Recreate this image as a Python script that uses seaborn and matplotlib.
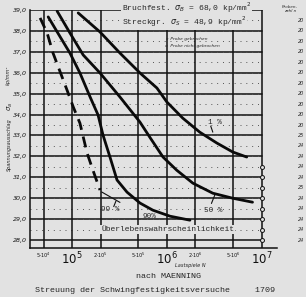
import matplotlib
matplotlib.use("Agg")
import numpy as np
import pandas as pd
import seaborn as sns
import matplotlib.pyplot as plt
from matplotlib.ticker import FixedLocator, NullLocator

# ---- data ----
n_99 = [4.6e4, 5.46e4, 6.3e4, 7.5e4, 8.85e4, 1.03e5, 1.21e5, 1.44e5, 1.66e5, 1.97e5]
s_99 = [38.62, 37.90, 36.94, 36.03, 35.17, 34.36, 33.59, 32.16, 31.34, 30.39]

n_90 = [5.6e4, 7.5e4, 9.5e4, 1.21e5, 1.55e5, 1.88e5, 2.12e5, 2.51e5, 2.98e5, 3.8e5, 5.2e5, 7.1e5, 1.08e6, 1.75e6]
s_90 = [38.67, 37.71, 36.94, 35.99, 34.84, 33.98, 33.02, 31.97, 30.87, 30.29, 29.77, 29.43, 29.14, 28.95]

n_50 = [6.95e4, 9.5e4, 1.31e5, 1.97e5, 3.2e5, 5.2e5, 6.6e5, 9.1e5, 1.27e6, 1.88e6, 3.05e6, 4.95e6, 8.0e6]
s_50 = [38.95, 37.90, 36.85, 35.99, 34.84, 33.64, 32.92, 31.97, 31.34, 30.72, 30.24, 30.00, 29.81]

n_01 = [1.16e5, 1.97e5, 3.2e5, 5.2e5, 7.85e5, 1.0e6, 1.47e6, 2.22e6, 3.36e6, 4.95e6, 6.95e6]
s_01 = [38.86, 37.95, 36.94, 35.99, 35.27, 34.60, 33.83, 33.16, 32.64, 32.21, 31.97]

y_levels = [28.0, 29.0, 30.0, 31.0, 32.0, 33.0, 34.0, 35.0, 36.0, 37.0, 38.0, 39.0]
y_labels = ["28,0", "29,0", "30,0", "31,0", "32,0", "33,0", "34,0", "35,0", "36,0", "37,0", "38,0", "39,0"]
x_ticks = [5e4, 1e5, 2e5, 5e5, 1e6, 2e6, 5e6, 1e7]
x_labels = [r"$5{\cdot}10^4$", r"$10^5$", r"$2{\cdot}10^5$", r"$5{\cdot}10^5$",
            r"$10^6$", r"$2{\cdot}10^6$", r"$5{\cdot}10^6$", r"$10^7$"]
x_major = [False, True, False, False, True, False, False, True]

n_levels = [38.5, 38.0, 37.5, 37.0, 36.5, 36.0, 35.5, 35.0, 34.5, 34.0, 33.5,
            33.0, 32.5, 32.0, 31.5, 31.0, 30.5, 30.0, 29.5, 29.0, 28.5, 28.0]
n_counts = ["20", "20", "20", "20", "20", "20", "20", "20", "20", "20", "20",
            "25", "24", "24", "24", "24", "25", "24", "24", "24", "24", "24"]
runout_levels = [31.5, 31.0, 30.5, 30.0, 29.5, 29.0, 28.5, 28.0]

curves = {"99 %": (n_99, s_99, "dashed"), "90%": (n_90, s_90, "solid"),
          "50 %": (n_50, s_50, "solid"), "1 %": (n_01, s_01, "solid")}

paper = "#e2e2e2"
mono = "Liberation Mono"

sns.set_theme(style="white")
plt.rcParams["font.family"] = ["DejaVu Sans"]

fig = plt.figure(figsize=(3.06, 2.97), dpi=100, facecolor=paper)
ax = fig.add_axes([30 / 306, 49 / 297, 247 / 306, 238 / 297])
ax.set_facecolor(paper)
ax.set_xscale("log")
ax.set_xlim(3.6e4, 1.45e7)
ax.set_ylim(27.62, 39.0)

# grid
for y in y_levels:
    ax.plot([3.6e4, 1e7], [y, y], color="#111111", lw=1.1, zorder=1)
for y in n_levels[:-1]:
    ax.plot([3.6e4, 1e7], [y, y], color="#555555", lw=0.7, ls=(0, (1, 5)), zorder=1)
for x in x_ticks:
    ax.plot([x, x], [27.62, 39.0], color="#111111", lw=1.1, zorder=1)

# curves
for name, (n, s, ls) in curves.items():
    df = pd.DataFrame({"N": n, "S": s})
    sns.lineplot(data=df, x="N", y="S", ax=ax, color="#0a0a0a", lw=2.0,
                 linestyle=ls, sort=False, estimator=None, zorder=3)
ax.lines[-4].set_dashes((4, 2.5))

# run-out markers at right edge
ax.scatter([1e7] * len(runout_levels), runout_levels, s=8, facecolor=paper,
           edgecolor="#111111", linewidth=0.7, zorder=4, clip_on=False)

# spines & ticks
for sp in ["top", "right"]:
    ax.spines[sp].set_visible(False)
for sp in ["left", "bottom"]:
    ax.spines[sp].set_color("#111111")
    ax.spines[sp].set_linewidth(1.1)
ax.xaxis.set_major_locator(FixedLocator(x_ticks))
ax.xaxis.set_minor_locator(NullLocator())
ax.set_xticklabels(x_labels)
for lab, big in zip(ax.get_xticklabels(), x_major):
    lab.set_fontsize(8.5 if big else 3.5)
    lab.set_color("#111111")
ax.yaxis.set_major_locator(FixedLocator(y_levels))
ax.set_yticklabels(y_labels, fontsize=4.5, fontstyle="italic", color="#111111")
ax.tick_params(axis="both", length=0, pad=2)
ax.set_xlabel("")
ax.set_ylabel("")

# curve labels
ax.plot([2.05e5, 3.2e5], [30.3, 29.8], color="#111111", lw=0.8)
ax.plot([2.9e5, 2.75e5], [29.86, 29.6], color="#111111", lw=0.8)
ax.text(2.5e5, 29.45, "99 %", fontsize=5.5, family=mono, ha="center", va="center")
ax.text(6.5e5, 29.15, "90%", fontsize=5.5, family=mono, ha="center", va="center")
ax.plot([3.2e6, 2.95e6], [30.15, 29.75], color="#111111", lw=0.8)
ax.text(3.05e6, 29.43, "50 %", fontsize=5.5, family=mono, ha="center", va="center")
ax.plot([3.05e6, 2.9e6], [33.16, 33.45], color="#111111", lw=0.8)
ax.text(3.2e6, 33.62, "1 %", fontsize=5.5, family=mono, ha="center", va="center")
ax.text(1.02e6, 28.5, "Überlebenswahrscheinlichkeit", fontsize=5.8, family=mono,
        ha="center", va="center", bbox=dict(facecolor=paper, edgecolor="none", pad=0.5))

# legend text
ax.text(9.5e5, 37.6, "x  Probe gebrochen", fontsize=3.2, ha="left", va="center", style="italic")
ax.text(9.5e5, 37.3, "o  Probe nicht gebrochen", fontsize=3.2, ha="left", va="center", style="italic")

# right column of specimen counts
for y, c in zip(n_levels, n_counts):
    ax.text(2.6e7, y, c, fontsize=3.5, ha="center", va="center", style="italic",
            clip_on=False)
fig.text(290 / 306, 1 - 9 / 297, "Proben-\nzahl n", fontsize=3, ha="center", va="center",
         style="italic", linespacing=0.9)

# header texts
fig.text(122 / 306, 1 - 8 / 297, r"Bruchfest. $\sigma_B$ = 68,0 kp/mm$^2$", fontsize=5.8,
         family=mono, ha="left", va="center",
         bbox=dict(facecolor=paper, edgecolor="none", pad=0.5))
fig.text(122 / 306, 1 - 22 / 297, r"Streckgr. $\sigma_S$ = 48,9 kp/mm$^2$", fontsize=5.8,
         family=mono, ha="left", va="center",
         bbox=dict(facecolor=paper, edgecolor="none", pad=0.5))

# y label pieces
fig.text(9 / 306, 1 - 145 / 297, "Spannungsausschlag", rotation=90, fontsize=3.6,
         ha="center", va="center", style="italic")
fig.text(10 / 306, 1 - 106 / 297, r"$\sigma_a$", rotation=90, fontsize=5,
         ha="center", va="center")
fig.text(8 / 306, 1 - 75 / 297, "kp/mm²", rotation=90, fontsize=3.6,
         ha="center", va="center", style="italic")

# x label and captions
fig.text(190 / 306, 1 - 265 / 297, "Lastspiele N", fontsize=3.6, ha="center",
         va="center", style="italic")
fig.text(168 / 306, 1 - 276 / 297, "nach MAENNING", fontsize=6, family=mono,
         ha="center", va="center")
fig.text(35 / 306, 1 - 290 / 297, "Streuung der Schwingfestigkeitsversuche     1709",
         fontsize=6, family=mono, ha="left", va="center")

fig.savefig("out.png", dpi=100, facecolor=paper)
